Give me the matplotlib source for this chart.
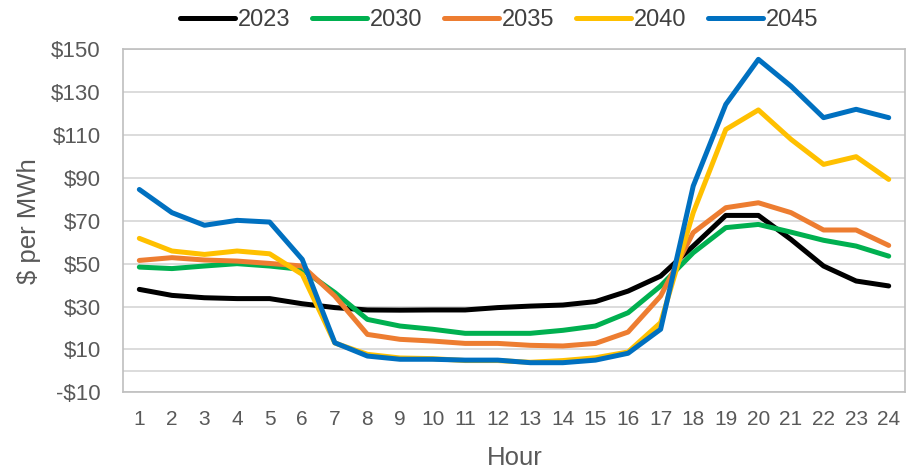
import matplotlib.pyplot as plt
from matplotlib.ticker import FuncFormatter

hours = list(range(1, 25))
years = ['2023', '2030', '2035', '2040', '2045']
colors = ['#000000', '#00B050', '#ED7D31', '#FFC000', '#0070C0']

price_2023 = [38, 35.2, 34.1, 33.7, 33.7, 31.3, 29.5, 28.4, 28.3, 28.4, 28.4, 29.5,
              30.2, 30.7, 32.3, 37.2, 44.2, 58.2, 72.5, 72.5, 61.3, 48.9, 41.9, 39.6]
price_2030 = [48.4, 47.7, 48.9, 50, 48.9, 47.3, 36.5, 24, 20.9, 19.4, 17.5, 17.5,
              17.5, 18.9, 20.9, 27.1, 39.6, 55.1, 66.8, 68.3, 64.7, 60.9, 58.2, 53.5]
price_2035 = [51.5, 52.8, 51.7, 51.2, 50.1, 48.9, 34.9, 17, 14.7, 13.9, 12.8, 12.8,
              11.9, 11.6, 12.8, 18.1, 34.9, 64.5, 76.1, 78.4, 73.8, 65.7, 65.7, 58.5]
price_2040 = [61.8, 55.9, 54.3, 55.9, 54.6, 45, 13, 7.7, 6, 5.7, 4.8, 4.8,
              4, 4.8, 6.1, 8.8, 22.5, 73.8, 112.6, 121.7, 108, 96.3, 99.9, 89.3]
price_2045 = [84.6, 73.8, 67.9, 70.2, 69.4, 52, 13.1, 6.9, 5.4, 5.4, 5, 5,
              3.8, 3.8, 5, 8.2, 19.4, 86.2, 124.3, 145.3, 132.8, 118.1, 122, 118.1]

series = [price_2023, price_2030, price_2035, price_2040, price_2045]

plt.rcParams['font.family'] = ['Liberation Sans', 'DejaVu Sans']

fig = plt.figure(figsize=(9.06, 4.72), dpi=100)
ax = fig.add_axes([0.1358, 0.1689, 0.8631, 0.7267])

for yr, vals, c in zip(years, series, colors):
    ax.plot(hours, vals, color=c, lw=3.6, label=yr, solid_capstyle='round',
            solid_joinstyle='round', zorder=3)

ax.set_xlim(0.5, 24.5)
ax.set_ylim(-10, 150)
ax.set_yticks(range(-10, 151, 20))
ax.set_xticks(hours)
ax.yaxis.set_major_formatter(FuncFormatter(
    lambda v, p: ('-$%d' % abs(v)) if v < 0 else ('$%d' % v)))

ax.grid(axis='y', color='#D9D9D9', lw=1.3, zorder=0)
ax.axhline(0, color='#D9D9D9', lw=1.3, zorder=0)
for s in ax.spines.values():
    s.set_color('#BFBFBF')
    s.set_linewidth(1.2)
ax.tick_params(length=0, colors='#595959')
ax.tick_params(axis='y', labelsize=16, pad=16)
ax.tick_params(axis='x', labelsize=15, pad=13)

# axis titles placed by their centres
ax.set_ylabel('$ per MWh', fontsize=18.5, color='#595959', va='center', ha='center')
ax.yaxis.set_label_coords(-0.1202, 0.5)
ax.set_xlabel('Hour', fontsize=18.5, color='#595959', va='center', ha='center')
ax.xaxis.set_label_coords(0.501, -0.1907)

fig.legend(loc='center', bbox_to_anchor=(0.551, 0.958), ncol=5, frameon=False,
           fontsize=17, handlelength=2.33, handletextpad=0.13, columnspacing=0.9,
           labelcolor='#404040')

fig.savefig('out.png', dpi=100)
